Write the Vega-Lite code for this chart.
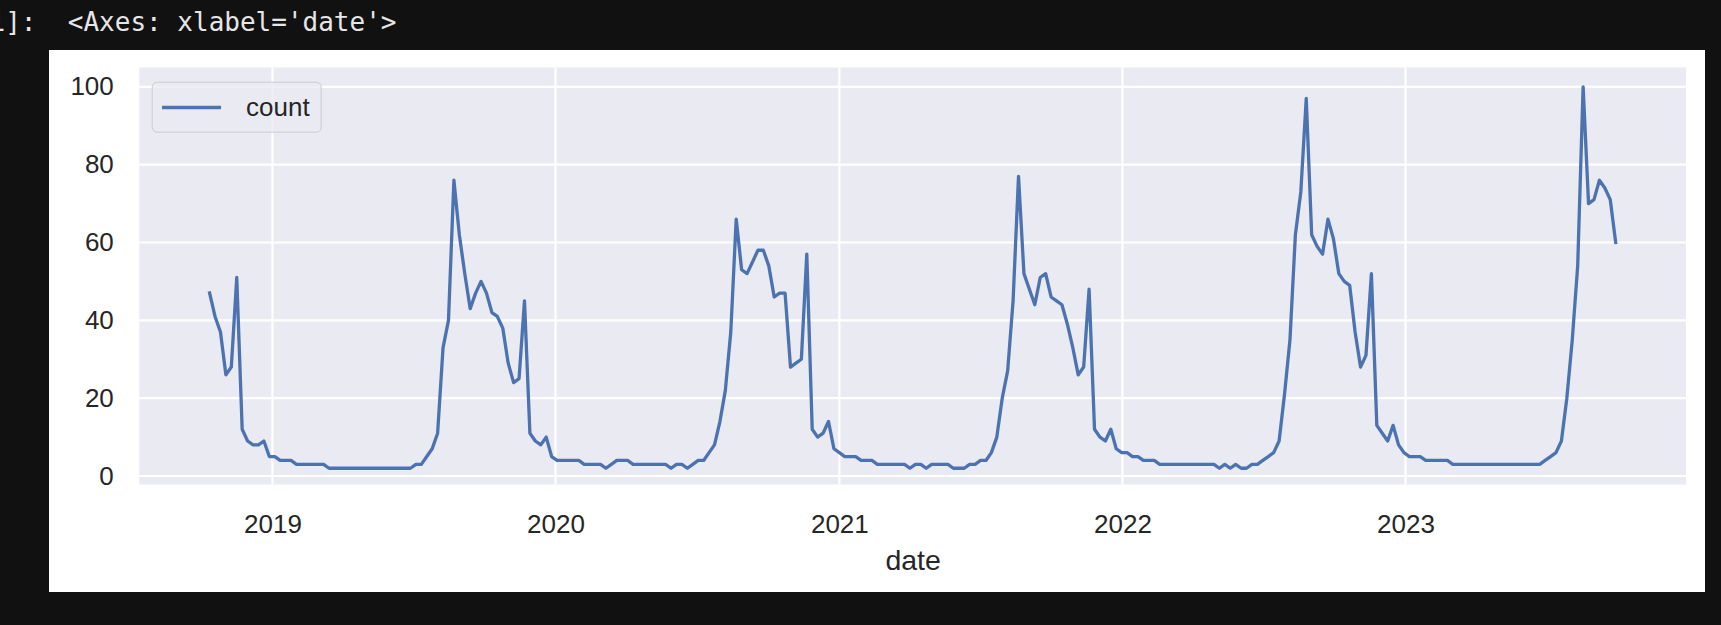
{
  "$schema": "https://vega.github.io/schema/vega-lite/v6.json",
  "description": "Weekly count, matplotlib/seaborn style line chart inside a dark notebook cell",
  "autosize": {"type": "none"},
  "padding": {"left": 49, "top": 50, "right": 16, "bottom": 33},
  "width": 1656,
  "height": 542,
  "background": "#111111",
  "title": {
    "text": "1]:\u00a0\u00a0<Axes: xlabel='date'>",
    "anchor": "start",
    "frame": "group",
    "font": "DejaVu Sans Mono",
    "fontSize": 26,
    "fontWeight": "normal",
    "color": "#e6e6e6",
    "baseline": "alphabetic",
    "offset": 19.3,
    "dx": -59.5,
    "dy": 26
  },
  "config": {
    "view": {"stroke": null, "fill": "white"},
    "axis": {
      "domain": false,
      "ticks": false,
      "grid": false,
      "labelFont": "Liberation Sans",
      "labelFontSize": 26,
      "labelColor": "#262626",
      "titleFont": "Liberation Sans",
      "titleFontSize": 28.5,
      "titleFontWeight": "normal",
      "titleColor": "#262626"
    }
  },
  "datasets": {
    "ygrid": [{"v": 0}, {"v": 20}, {"v": 40}, {"v": 60}, {"v": 80}, {"v": 100}],
    "xgrid": [{"d": "2019-01-01"}, {"d": "2020-01-01"}, {"d": "2021-01-01"}, {"d": "2022-01-01"}, {"d": "2023-01-01"}],
    "weekly": [
      {"date": "2018-10-12", "count": 47}, {"date": "2018-10-19", "count": 41}, {"date": "2018-10-26", "count": 37},
      {"date": "2018-11-02", "count": 26}, {"date": "2018-11-09", "count": 28}, {"date": "2018-11-16", "count": 51},
      {"date": "2018-11-23", "count": 12}, {"date": "2018-11-30", "count": 9}, {"date": "2018-12-07", "count": 8},
      {"date": "2018-12-14", "count": 8}, {"date": "2018-12-21", "count": 9}, {"date": "2018-12-28", "count": 5},
      {"date": "2019-01-04", "count": 5}, {"date": "2019-01-11", "count": 4}, {"date": "2019-01-18", "count": 4},
      {"date": "2019-01-25", "count": 4}, {"date": "2019-02-01", "count": 3}, {"date": "2019-02-08", "count": 3},
      {"date": "2019-02-15", "count": 3}, {"date": "2019-02-22", "count": 3}, {"date": "2019-03-01", "count": 3},
      {"date": "2019-03-08", "count": 3}, {"date": "2019-03-15", "count": 2}, {"date": "2019-03-22", "count": 2},
      {"date": "2019-03-29", "count": 2}, {"date": "2019-04-05", "count": 2}, {"date": "2019-04-12", "count": 2},
      {"date": "2019-04-19", "count": 2}, {"date": "2019-04-26", "count": 2}, {"date": "2019-05-03", "count": 2},
      {"date": "2019-05-10", "count": 2}, {"date": "2019-05-17", "count": 2}, {"date": "2019-05-24", "count": 2},
      {"date": "2019-05-31", "count": 2}, {"date": "2019-06-07", "count": 2}, {"date": "2019-06-14", "count": 2},
      {"date": "2019-06-21", "count": 2}, {"date": "2019-06-28", "count": 2}, {"date": "2019-07-05", "count": 3},
      {"date": "2019-07-12", "count": 3}, {"date": "2019-07-19", "count": 5}, {"date": "2019-07-26", "count": 7},
      {"date": "2019-08-02", "count": 11}, {"date": "2019-08-09", "count": 33}, {"date": "2019-08-16", "count": 40},
      {"date": "2019-08-23", "count": 76}, {"date": "2019-08-30", "count": 62}, {"date": "2019-09-06", "count": 52},
      {"date": "2019-09-13", "count": 43}, {"date": "2019-09-20", "count": 47}, {"date": "2019-09-27", "count": 50},
      {"date": "2019-10-04", "count": 47}, {"date": "2019-10-11", "count": 42}, {"date": "2019-10-18", "count": 41},
      {"date": "2019-10-25", "count": 38}, {"date": "2019-11-01", "count": 29}, {"date": "2019-11-08", "count": 24},
      {"date": "2019-11-15", "count": 25}, {"date": "2019-11-22", "count": 45}, {"date": "2019-11-29", "count": 11},
      {"date": "2019-12-06", "count": 9}, {"date": "2019-12-13", "count": 8}, {"date": "2019-12-20", "count": 10},
      {"date": "2019-12-27", "count": 5},
      {"date": "2020-01-03", "count": 4}, {"date": "2020-01-10", "count": 4}, {"date": "2020-01-17", "count": 4},
      {"date": "2020-01-24", "count": 4}, {"date": "2020-01-31", "count": 4}, {"date": "2020-02-07", "count": 3},
      {"date": "2020-02-14", "count": 3}, {"date": "2020-02-21", "count": 3}, {"date": "2020-02-28", "count": 3},
      {"date": "2020-03-06", "count": 2}, {"date": "2020-03-13", "count": 3}, {"date": "2020-03-20", "count": 4},
      {"date": "2020-03-27", "count": 4}, {"date": "2020-04-03", "count": 4}, {"date": "2020-04-10", "count": 3},
      {"date": "2020-04-17", "count": 3}, {"date": "2020-04-24", "count": 3}, {"date": "2020-05-01", "count": 3},
      {"date": "2020-05-08", "count": 3}, {"date": "2020-05-15", "count": 3}, {"date": "2020-05-22", "count": 3},
      {"date": "2020-05-29", "count": 2}, {"date": "2020-06-05", "count": 3}, {"date": "2020-06-12", "count": 3},
      {"date": "2020-06-19", "count": 2}, {"date": "2020-06-26", "count": 3}, {"date": "2020-07-03", "count": 4},
      {"date": "2020-07-10", "count": 4}, {"date": "2020-07-17", "count": 6}, {"date": "2020-07-24", "count": 8},
      {"date": "2020-07-31", "count": 14}, {"date": "2020-08-07", "count": 22}, {"date": "2020-08-14", "count": 37},
      {"date": "2020-08-21", "count": 66}, {"date": "2020-08-28", "count": 53}, {"date": "2020-09-04", "count": 52},
      {"date": "2020-09-11", "count": 55}, {"date": "2020-09-18", "count": 58}, {"date": "2020-09-25", "count": 58},
      {"date": "2020-10-02", "count": 54}, {"date": "2020-10-09", "count": 46}, {"date": "2020-10-16", "count": 47},
      {"date": "2020-10-23", "count": 47}, {"date": "2020-10-30", "count": 28}, {"date": "2020-11-06", "count": 29},
      {"date": "2020-11-13", "count": 30}, {"date": "2020-11-20", "count": 57}, {"date": "2020-11-27", "count": 12},
      {"date": "2020-12-04", "count": 10}, {"date": "2020-12-11", "count": 11}, {"date": "2020-12-18", "count": 14},
      {"date": "2020-12-25", "count": 7},
      {"date": "2021-01-01", "count": 6}, {"date": "2021-01-08", "count": 5}, {"date": "2021-01-15", "count": 5},
      {"date": "2021-01-22", "count": 5}, {"date": "2021-01-29", "count": 4}, {"date": "2021-02-05", "count": 4},
      {"date": "2021-02-12", "count": 4}, {"date": "2021-02-19", "count": 3}, {"date": "2021-02-26", "count": 3},
      {"date": "2021-03-05", "count": 3}, {"date": "2021-03-12", "count": 3}, {"date": "2021-03-19", "count": 3},
      {"date": "2021-03-26", "count": 3}, {"date": "2021-04-02", "count": 2}, {"date": "2021-04-09", "count": 3},
      {"date": "2021-04-16", "count": 3}, {"date": "2021-04-23", "count": 2}, {"date": "2021-04-30", "count": 3},
      {"date": "2021-05-07", "count": 3}, {"date": "2021-05-14", "count": 3}, {"date": "2021-05-21", "count": 3},
      {"date": "2021-05-28", "count": 2}, {"date": "2021-06-04", "count": 2}, {"date": "2021-06-11", "count": 2},
      {"date": "2021-06-18", "count": 3}, {"date": "2021-06-25", "count": 3}, {"date": "2021-07-02", "count": 4},
      {"date": "2021-07-09", "count": 4}, {"date": "2021-07-16", "count": 6}, {"date": "2021-07-23", "count": 10},
      {"date": "2021-07-30", "count": 20}, {"date": "2021-08-06", "count": 27}, {"date": "2021-08-13", "count": 45},
      {"date": "2021-08-20", "count": 77}, {"date": "2021-08-27", "count": 52}, {"date": "2021-09-03", "count": 48},
      {"date": "2021-09-10", "count": 44}, {"date": "2021-09-17", "count": 51}, {"date": "2021-09-24", "count": 52},
      {"date": "2021-10-01", "count": 46}, {"date": "2021-10-08", "count": 45}, {"date": "2021-10-15", "count": 44},
      {"date": "2021-10-22", "count": 39}, {"date": "2021-10-29", "count": 33}, {"date": "2021-11-05", "count": 26},
      {"date": "2021-11-12", "count": 28}, {"date": "2021-11-19", "count": 48}, {"date": "2021-11-26", "count": 12},
      {"date": "2021-12-03", "count": 10}, {"date": "2021-12-10", "count": 9}, {"date": "2021-12-17", "count": 12},
      {"date": "2021-12-24", "count": 7}, {"date": "2021-12-31", "count": 6},
      {"date": "2022-01-07", "count": 6}, {"date": "2022-01-14", "count": 5}, {"date": "2022-01-21", "count": 5},
      {"date": "2022-01-28", "count": 4}, {"date": "2022-02-04", "count": 4}, {"date": "2022-02-11", "count": 4},
      {"date": "2022-02-18", "count": 3}, {"date": "2022-02-25", "count": 3}, {"date": "2022-03-04", "count": 3},
      {"date": "2022-03-11", "count": 3}, {"date": "2022-03-18", "count": 3}, {"date": "2022-03-25", "count": 3},
      {"date": "2022-04-01", "count": 3}, {"date": "2022-04-08", "count": 3}, {"date": "2022-04-15", "count": 3},
      {"date": "2022-04-22", "count": 3}, {"date": "2022-04-29", "count": 3}, {"date": "2022-05-06", "count": 2},
      {"date": "2022-05-13", "count": 3}, {"date": "2022-05-20", "count": 2}, {"date": "2022-05-27", "count": 3},
      {"date": "2022-06-03", "count": 2}, {"date": "2022-06-10", "count": 2}, {"date": "2022-06-17", "count": 3},
      {"date": "2022-06-24", "count": 3}, {"date": "2022-07-01", "count": 4}, {"date": "2022-07-08", "count": 5},
      {"date": "2022-07-15", "count": 6}, {"date": "2022-07-22", "count": 9}, {"date": "2022-07-29", "count": 21},
      {"date": "2022-08-05", "count": 35}, {"date": "2022-08-12", "count": 62}, {"date": "2022-08-19", "count": 73},
      {"date": "2022-08-26", "count": 97}, {"date": "2022-09-02", "count": 62}, {"date": "2022-09-09", "count": 59},
      {"date": "2022-09-16", "count": 57}, {"date": "2022-09-23", "count": 66}, {"date": "2022-09-30", "count": 61},
      {"date": "2022-10-07", "count": 52}, {"date": "2022-10-14", "count": 50}, {"date": "2022-10-21", "count": 49},
      {"date": "2022-10-28", "count": 37}, {"date": "2022-11-04", "count": 28}, {"date": "2022-11-11", "count": 31},
      {"date": "2022-11-18", "count": 52}, {"date": "2022-11-25", "count": 13}, {"date": "2022-12-02", "count": 11},
      {"date": "2022-12-09", "count": 9}, {"date": "2022-12-16", "count": 13}, {"date": "2022-12-23", "count": 8},
      {"date": "2022-12-30", "count": 6},
      {"date": "2023-01-06", "count": 5}, {"date": "2023-01-13", "count": 5}, {"date": "2023-01-20", "count": 5},
      {"date": "2023-01-27", "count": 4}, {"date": "2023-02-03", "count": 4}, {"date": "2023-02-10", "count": 4},
      {"date": "2023-02-17", "count": 4}, {"date": "2023-02-24", "count": 4}, {"date": "2023-03-03", "count": 3},
      {"date": "2023-03-10", "count": 3}, {"date": "2023-03-17", "count": 3}, {"date": "2023-03-24", "count": 3},
      {"date": "2023-03-31", "count": 3}, {"date": "2023-04-07", "count": 3}, {"date": "2023-04-14", "count": 3},
      {"date": "2023-04-21", "count": 3}, {"date": "2023-04-28", "count": 3}, {"date": "2023-05-05", "count": 3},
      {"date": "2023-05-12", "count": 3}, {"date": "2023-05-19", "count": 3}, {"date": "2023-05-26", "count": 3},
      {"date": "2023-06-02", "count": 3}, {"date": "2023-06-09", "count": 3}, {"date": "2023-06-16", "count": 3},
      {"date": "2023-06-23", "count": 3}, {"date": "2023-06-30", "count": 4}, {"date": "2023-07-07", "count": 5},
      {"date": "2023-07-14", "count": 6}, {"date": "2023-07-21", "count": 9}, {"date": "2023-07-28", "count": 20},
      {"date": "2023-08-04", "count": 35}, {"date": "2023-08-11", "count": 54}, {"date": "2023-08-18", "count": 100},
      {"date": "2023-08-25", "count": 70}, {"date": "2023-09-01", "count": 71}, {"date": "2023-09-08", "count": 76},
      {"date": "2023-09-15", "count": 74}, {"date": "2023-09-22", "count": 71}, {"date": "2023-09-29", "count": 60}
    ]
  },
  "layer": [
    {
      "data": {"values": [{}]},
      "mark": {"type": "rect", "color": "#eaeaf2"},
      "encoding": {
        "x": {
          "datum": {"year": 2018, "month": 7, "date": 13, "hours": 8, "minutes": 24, "utc": true},
          "type": "temporal",
          "scale": {"type": "utc", "domain": [{"year": 2018, "month": 7, "date": 13, "hours": 8, "minutes": 24, "utc": true}, {"year": 2023, "month": 12, "date": 28, "hours": 15, "minutes": 36, "utc": true}], "range": [90.3, 1637], "nice": false}
        },
        "x2": {"datum": {"year": 2023, "month": 12, "date": 28, "hours": 15, "minutes": 36, "utc": true}},
        "y": {
          "datum": -2.18,
          "type": "quantitative",
          "scale": {"domain": [-2.18, 104.96], "range": [434.5, 17.5], "nice": false, "zero": false}
        },
        "y2": {"datum": 104.96}
      }
    },
    {
      "data": {"name": "ygrid"},
      "mark": {"type": "rule", "color": "white", "strokeWidth": 2.2},
      "encoding": {
        "x": {"datum": {"year": 2018, "month": 7, "date": 13, "hours": 8, "minutes": 24, "utc": true}, "type": "temporal"},
        "x2": {"datum": {"year": 2023, "month": 12, "date": 28, "hours": 15, "minutes": 36, "utc": true}},
        "y": {"field": "v", "type": "quantitative"}
      }
    },
    {
      "data": {"name": "xgrid"},
      "mark": {"type": "rule", "color": "white", "strokeWidth": 2.2},
      "encoding": {
        "x": {"field": "d", "type": "temporal"},
        "y": {"datum": -2.18, "type": "quantitative"},
        "y2": {"datum": 104.96}
      }
    },
    {
      "data": {"name": "weekly"},
      "mark": {"type": "line", "strokeWidth": 3.3, "strokeJoin": "round", "strokeCap": "square"},
      "encoding": {
        "x": {
          "field": "date",
          "type": "temporal",
          "axis": {
            "orient": "bottom",
            "offset": -107.5,
            "values": [
              {"year": 2019, "month": 1, "date": 1, "utc": true},
              {"year": 2020, "month": 1, "date": 1, "utc": true},
              {"year": 2021, "month": 1, "date": 1, "utc": true},
              {"year": 2022, "month": 1, "date": 1, "utc": true},
              {"year": 2023, "month": 1, "date": 1, "utc": true}
            ],
            "format": "%Y",
            "labelAlign": "center",
            "labelBaseline": "alphabetic",
            "labelPadding": 47.8,
            "labelFlush": false,
            "labelOverlap": false,
            "title": "date",
            "titleY": 84.8,
            "titleBaseline": "alphabetic"
          }
        },
        "y": {
          "field": "count",
          "type": "quantitative",
          "axis": {
            "orient": "left",
            "offset": -90.3,
            "values": [0, 20, 40, 60, 80, 100],
            "labelPadding": 26,
            "labelBaseline": "middle",
            "title": null
          }
        },
        "color": {
          "datum": "count",
          "type": "nominal",
          "scale": {"range": ["#4c72b0"]},
          "legend": {
            "orient": "none",
            "legendX": 102.7,
            "legendY": 31.7,
            "title": null,
            "padding": 10.8,
            "fillColor": "rgba(234,234,242,0.8)",
            "strokeColor": "#cccccc",
            "cornerRadius": 5,
            "symbolType": "M-1.19,0H3.35",
            "symbolSize": 676,
            "symbolStrokeWidth": 3.3,
            "labelFont": "Liberation Sans",
            "labelFontSize": 26,
            "labelColor": "#262626",
            "labelOffset": 53.5
          }
        }
      }
    }
  ]
}
